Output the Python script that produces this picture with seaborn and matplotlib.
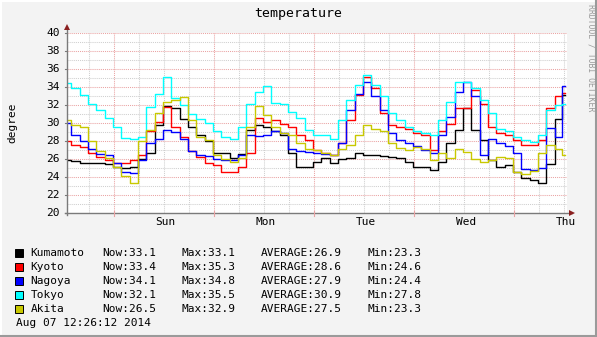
import numpy as np
import pandas as pd
import matplotlib
matplotlib.use("Agg")
import matplotlib.pyplot as plt
from matplotlib.patches import Rectangle
from matplotlib.lines import Line2D
import seaborn as sns

# ---------------- data ----------------
cities = ["Kumamoto", "Kyoto", "Nagoya", "Tokyo", "Akita"]
colors = ["#000000", "#ff0000", "#0000ff", "#00ffff", "#c8c800"]

# sample times in hours from the left edge of the chart
hours = list(range(0, 120, 2)) + [119.5]

kumamoto = [25.9, 25.8, 25.6, 25.6, 25.6, 25.5, 25.2, 25.0, 25.2, 26.0,
            26.7, 29.8, 31.9, 31.7, 30.5, 29.6, 28.7, 28.0, 26.7, 26.7,
            26.1, 26.6, 29.3, 29.8, 29.6, 29.1, 28.7, 26.7, 25.2, 25.2,
            25.7, 26.1, 25.6, 26.0, 26.1, 26.7, 26.5, 26.5, 26.4, 26.3,
            26.1, 25.7, 25.2, 25.2, 24.8, 25.7, 27.8, 29.3, 31.7, 29.3,
            28.1, 25.9, 25.2, 25.4, 24.6, 23.9, 23.7, 23.4, 25.5, 30.5,
            33.1]
kyoto = [28.0, 27.6, 27.4, 26.7, 26.3, 25.9, 25.6, 25.6, 25.9, 26.5,
         29.1, 30.2, 31.8, 29.6, 28.5, 26.9, 26.3, 25.6, 25.4, 24.6,
         24.6, 25.2, 26.7, 30.6, 30.2, 30.4, 29.9, 29.6, 28.7, 28.1,
         27.0, 26.7, 26.5, 27.8, 30.4, 33.1, 35.2, 33.9, 31.1, 29.8,
         29.6, 29.4, 28.9, 28.7, 27.0, 29.1, 29.9, 31.7, 31.7, 33.7,
         32.2, 29.6, 28.9, 28.7, 28.1, 27.6, 27.6, 28.1, 31.7, 33.0,
         33.4]
nagoya = [30.0, 28.7, 28.0, 27.2, 26.6, 26.5, 25.6, 24.6, 24.5, 25.9,
          27.8, 28.3, 29.3, 29.0, 28.3, 26.9, 26.5, 26.4, 26.0, 25.9,
          25.9, 26.5, 28.7, 28.6, 28.7, 29.1, 28.9, 27.2, 26.9, 26.8,
          26.7, 26.6, 26.5, 27.8, 31.5, 33.3, 34.6, 33.0, 31.5, 28.9,
          28.2, 27.8, 27.5, 27.0, 26.7, 28.7, 30.7, 33.5, 34.6, 33.0,
          26.5, 28.3, 27.8, 27.5, 26.7, 24.9, 24.8, 25.0, 29.5, 28.5,
          34.1]
tokyo = [34.5, 33.9, 33.2, 32.2, 31.5, 30.6, 29.6, 28.4, 28.3, 28.5,
         31.8, 33.3, 35.2, 32.8, 32.0, 31.0, 30.5, 30.0, 29.2, 28.5,
         28.3, 29.6, 32.2, 33.5, 34.1, 32.3, 32.2, 31.3, 30.6, 29.3,
         28.7, 28.7, 28.3, 30.4, 32.6, 34.3, 35.4, 34.3, 33.0, 31.1,
         30.4, 29.6, 29.2, 28.9, 28.7, 30.4, 32.4, 34.6, 34.6, 33.9,
         32.6, 31.1, 29.4, 29.1, 28.5, 28.2, 27.9, 28.7, 31.5, 32.0,
         32.1]
akita = [30.4, 29.8, 29.6, 28.0, 26.9, 26.2, 25.2, 24.2, 23.4, 28.0,
         29.3, 31.1, 32.4, 32.6, 32.9, 30.4, 28.5, 28.2, 26.5, 26.0,
         25.7, 26.2, 29.6, 31.9, 30.9, 29.6, 28.9, 28.7, 27.8, 27.2,
         27.0, 26.7, 26.5, 27.2, 27.6, 28.7, 29.8, 29.4, 29.2, 27.8,
         27.3, 27.0, 27.4, 27.2, 25.9, 26.7, 26.2, 27.2, 26.8, 26.0,
         25.7, 25.9, 26.3, 26.2, 24.6, 24.4, 24.7, 26.7, 27.6, 27.2,
         26.5]

now_vals = ["33.1", "33.4", "34.1", "32.1", "26.5"]
max_vals = ["33.1", "35.3", "34.8", "35.5", "32.9"]
avg_vals = ["26.9", "28.6", "27.9", "30.9", "27.5"]
min_vals = ["23.3", "24.6", "24.4", "27.8", "23.3"]

day_labels = ["Sun", "Mon", "Tue", "Wed", "Thu"]
day_label_hours = [23.7, 47.7, 71.7, 95.7, 119.7]
y_ticks = [20, 22, 24, 26, 28, 30, 32, 34, 36, 38, 40]
timestamp = "Aug 07 12:26:12 2014"
title = "temperature"
ylabel = "degree"

series = {"Kumamoto": kumamoto, "Kyoto": kyoto, "Nagoya": nagoya,
          "Tokyo": tokyo, "Akita": akita}
df = pd.concat([pd.DataFrame({"hour": hours, "temp": v, "city": c})
                for c, v in series.items()], ignore_index=True)

# ---------------- figure ----------------
W, H = 597, 337
MONO = "DejaVu Sans Mono"
plt.rcParams["font.family"] = MONO

fig = plt.figure(figsize=(W / 100, H / 100), dpi=100)
fig.patch.set_facecolor("#f3f3f3")


def fx(x):
    return x / W


def fy(y):
    return 1 - y / H


# frame shading
fig.add_artist(Line2D([0, 1], [fy(0.5), fy(0.5)], color="white", lw=1.5))
fig.add_artist(Line2D([fx(0.5), fx(0.5)], [0, 1], color="white", lw=1.5))
fig.add_artist(Line2D([0, 1], [fy(336), fy(336)], color="#9a9a9a", lw=1.5))
fig.add_artist(Line2D([fx(596), fx(596)], [0, 1], color="#9a9a9a", lw=1.5))

L, R, T, B = 67, 567, 33.3, 213.3
ax = fig.add_axes([fx(L), fy(B), (R - L) / W, (B - T) / H])
ax.set_facecolor("white")
ax.set_xlim(0, 120)
ax.set_ylim(20, 40)
for s in ax.spines.values():
    s.set_visible(False)
ax.set_xticks([])
ax.set_yticks([])

# grid
grid_gray = "#cfcfcf"
grid_red = "#eaa3a3"
dots = (0, (1, 1))
for k in range(20):
    xv = 5.35 + 6 * k
    major = (k % 4 == 1)
    ax.axvline(xv, color=grid_red if major else grid_gray, lw=0.75,
               ls=dots, zorder=1)
for v in range(21, 41):
    ax.axhline(v, color=grid_red if v % 2 == 0 else grid_gray, lw=0.75,
               ls=dots, zorder=1)

# data lines
sns.lineplot(data=df, x="hour", y="temp", hue="city", hue_order=cities,
             palette=dict(zip(cities, colors)), estimator=None, sort=False,
             drawstyle="steps-mid", linewidth=1.0, legend=False, ax=ax,
             zorder=3)
ax.set_xlabel("")
ax.set_ylabel("")
ax.set_xlim(0, 120)
ax.set_ylim(20, 40)

# axis lines with arrows
axis_col = "#7a7a7a"
arrow_col = "#8b2020"
ax.plot([0, 0], [19.8, 40.7], color=axis_col, lw=1, clip_on=False, zorder=4)
ax.plot([-0.6, 121.3], [20, 20], color=axis_col, lw=1, clip_on=False, zorder=4)
ax.plot([0], [40.75], marker="^", ms=4.5, color=arrow_col, clip_on=False,
        zorder=5, mew=0)
ax.plot([121.3], [20], marker=">", ms=4.5, color=arrow_col, clip_on=False,
        zorder=5, mew=0)

# small ticks
for v in y_ticks:
    ax.plot([-0.5, 0], [v, v], color=axis_col, lw=0.8, clip_on=False, zorder=4)
for k in range(5):
    xv = 11.35 + 24 * k
    ax.plot([xv, xv], [19.75, 20.25], color=grid_red, lw=0.8, clip_on=False,
            zorder=4)

# tick labels
for v in y_ticks:
    ax.text(-7 / 500, (v - 20) / 20, str(v), transform=ax.transAxes,
            ha="right", va="center", fontsize=8, family=MONO)
for lab, h in zip(day_labels, day_label_hours):
    ax.text(h, -8.4 / 180, lab, transform=ax.get_xaxis_transform(),
            ha="center", va="center", fontsize=8, family=MONO)

# titles
fig.text(fx(298), fy(14), title, ha="center", va="center", fontsize=9.5,
         family=MONO)
fig.text(fx(12), fy(123), ylabel, ha="center", va="center", rotation=90,
         fontsize=8, family=MONO)
fig.text(fx(591.5), fy(4), "RRDTOOL / TOBI OETIKER", ha="center", va="top",
         rotation=270, fontsize=5.9, family=MONO, color="#999999")

# legend
row_y = [253, 267, 281, 295, 309]
for i, c in enumerate(cities):
    y = row_y[i]
    fig.add_artist(Rectangle((fx(15), fy(y + 4)), 8 / W, 8 / H,
                             facecolor=colors[i], edgecolor="black",
                             lw=0.7, transform=fig.transFigure))
    fig.text(fx(30.5), fy(y), c, ha="left", va="center", fontsize=8,
             family=MONO)
    fig.text(fx(102), fy(y), "Now:" + now_vals[i], ha="left", va="center",
             fontsize=8, family=MONO)
    fig.text(fx(181.5), fy(y), "Max:" + max_vals[i], ha="left", va="center",
             fontsize=8, family=MONO)
    fig.text(fx(261), fy(y), "AVERAGE:" + avg_vals[i], ha="left",
             va="center", fontsize=8, family=MONO)
    fig.text(fx(367.5), fy(y), "Min:" + min_vals[i], ha="left", va="center",
             fontsize=8, family=MONO)
fig.text(fx(16.5), fy(323), timestamp, ha="left", va="center", fontsize=8,
         family=MONO)

fig.savefig("out.png", dpi=100, facecolor=fig.get_facecolor())
